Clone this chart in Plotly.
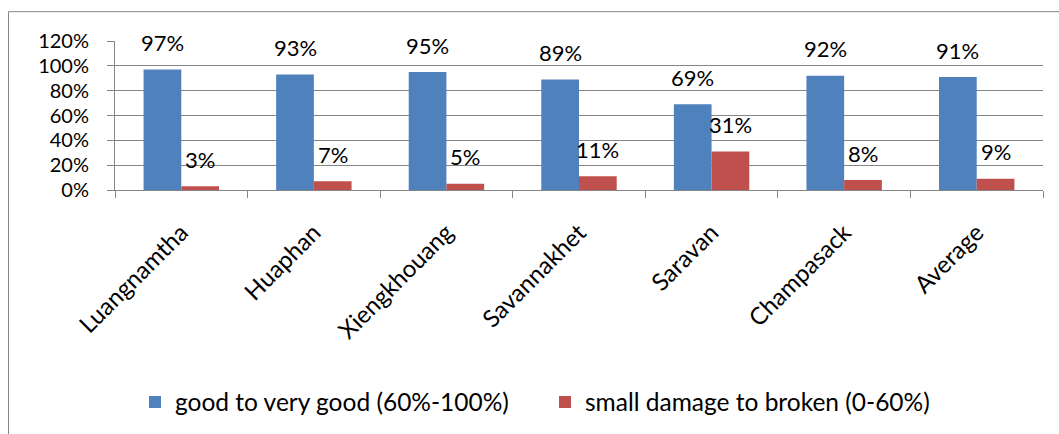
import plotly.graph_objects as go

# Share of facilities by condition, per province
provinces = ["Luangnamtha", "Huaphan", "Xiengkhouang", "Savannakhet",
             "Saravan", "Champasack", "Average"]
good_pct = [97, 93, 95, 89, 69, 92, 91]
damaged_pct = [3, 7, 5, 11, 31, 8, 9]

good_name = "good to very good (60%-100%)"
damaged_name = "small damage to broken (0-60%)"

y_ticks = [0, 20, 40, 60, 80, 100, 120]
y_tick_labels = ["0%", "20%", "40%", "60%", "80%", "100%", "120%"]

BLUE = "#4F81BD"
RED = "#C0504D"
GRID = "#868686"
FONT = "Lato"

W, H = 1059, 434
ML, MR, MT, MB = 115, 16, 41, 243
PW = W - ML - MR
PH = H - MT - MB


def px_to_paper_x(px):
    return (px - ML) / PW


def px_to_paper_y(py):
    return (H - MB - py) / PH


fig = go.Figure()
fig.add_trace(go.Bar(x=provinces, y=good_pct, name=good_name,
                     marker=dict(color=BLUE, line=dict(width=0)),
                     legend="legend"))
fig.add_trace(go.Bar(x=provinces, y=damaged_pct, name=damaged_name,
                     marker=dict(color=RED, line=dict(width=0)),
                     legend="legend2"))

# value labels sit a fixed distance above each bar
bar_half = 0.5 * PW / len(provinces) * (1 - 0.431) / 2
annotations = []
for cat, g, d in zip(provinces, good_pct, damaged_pct):
    for val, shift in ((g, -bar_half), (d, bar_half)):
        annotations.append(dict(
            x=cat, y=val, xref="x", yref="y", text=f"{val}%",
            showarrow=False, xshift=shift, yshift=27,
            yanchor="middle", xanchor="center",
            font=dict(family=FONT, size=22, color="black")))

# outer chart frame (top and left edges)
frame = dict(
    type="path", xref="paper", yref="paper",
    path=(f"M {px_to_paper_x(8.5)} {px_to_paper_y(445)} "
          f"L {px_to_paper_x(8.5)} {px_to_paper_y(11.5)} "
          f"L {px_to_paper_x(1070)} {px_to_paper_y(11.5)}"),
    line=dict(color=GRID, width=1))

legend_font = dict(family=FONT, size=24.5)

fig.update_layout(
    width=W, height=H,
    margin=dict(l=ML, r=MR, t=MT, b=MB),
    paper_bgcolor="white", plot_bgcolor="white",
    barmode="group", bargap=0.431, bargroupgap=0,
    showlegend=True,
    font=dict(family=FONT, color="black"),
    xaxis=dict(
        type="category", tickangle=-45, tickson="boundaries",
        ticks="outside", ticklen=7, tickcolor=GRID, tickwidth=1,
        showline=True, linecolor=GRID, linewidth=1,
        showgrid=False, ticklabelstandoff=18,
        tickfont=dict(family=FONT, size=24)),
    yaxis=dict(
        range=[0, 120], tickmode="array", tickvals=y_ticks,
        ticktext=y_tick_labels,
        ticks="outside", ticklen=7, tickcolor=GRID, tickwidth=1,
        showline=True, linecolor=GRID, linewidth=1,
        showgrid=True, gridcolor=GRID, gridwidth=1, zeroline=False,
        ticklabelstandoff=14,
        tickfont=dict(family=FONT, size=20)),
    legend=dict(orientation="h", x=px_to_paper_x(135), xanchor="left",
                y=px_to_paper_y(402), yanchor="middle",
                font=legend_font, bgcolor="rgba(0,0,0,0)"),
    legend2=dict(orientation="h", x=px_to_paper_x(545), xanchor="left",
                 y=px_to_paper_y(402), yanchor="middle",
                 font=legend_font, bgcolor="rgba(0,0,0,0)"),
    annotations=annotations,
    shapes=[frame],
)

fig.write_html("out.html")
